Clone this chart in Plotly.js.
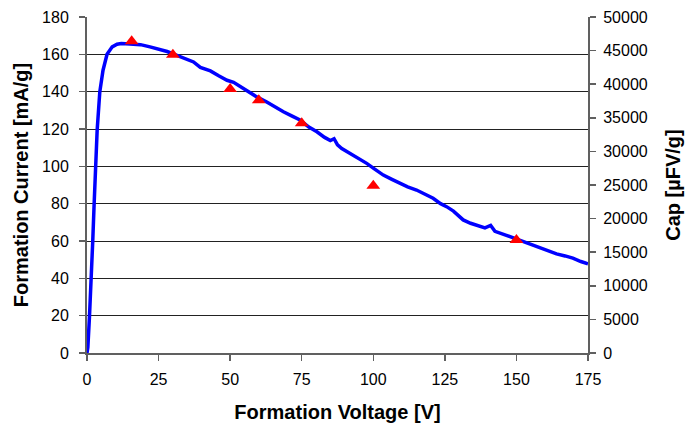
<!DOCTYPE html>
<html>
<head>
<meta charset="utf-8">
<script src="https://cdn.plot.ly/plotly-3.0.1.min.js"></script>
<style>html,body{margin:0;padding:0;background:#fff;}#chart{width:685px;height:427px;}</style>
</head>
<body>
<div id="chart"></div>
<script>
// Formation current curve (left axis)
const voltage = [0,0.3,0.87,1.57,2.0,2.5,2.96,3.55,4.47,5.6,7.0,8.8,10.5,12,15,18.7,22,25.6,28,31.4,34,37.2,39.6,43.1,46,48.9,51.2,54.7,57,59.3,62.8,65.5,68.6,71.5,74.4,77.5,80.3,83,85,86.3,87.5,89,91.9,94.8,97.7,100.5,103.5,106.5,109.3,112,115.1,118,120.9,123.5,125.6,128,131.4,134,137.2,139,141,142.5,146.5,150,153.5,157,160.5,164,167,169.7,172.5,175];
const current = [0,3,19.6,39.2,59.7,80.2,99.8,119.4,139.9,151.5,160,164,165.4,165.8,165.6,165.2,164,162.6,161.5,159.5,157.8,155.9,153,151.1,148.5,146.1,145,141.7,139.9,137.2,134.5,132,129.2,127,124.8,121,118.5,115.5,113.8,114.8,111.5,109.5,107,104,101.6,98.5,95.3,93,90.9,89,87.3,85,82.9,80,78.4,76,71.3,69.5,67.7,67,68.3,65.2,63,61,59,57,55,53.1,52,50.8,49,47.8];
// Capacitance points (right axis)
const capVoltage = [15.6,30,50,60,75,100,150];
const capValue = [46400,44400,39300,37600,34200,24900,16800];
// Tick labels
const xTicks = [0,25,50,75,100,125,150,175];
const yTicks = [0,20,40,60,80,100,120,140,160,180];
const y2Ticks = [0,5000,10000,15000,20000,25000,30000,35000,40000,45000,50000];

const font = 'Liberation Sans, Arial, sans-serif';
const traces = [
  {x: voltage, y: current, type: 'scatter', mode: 'lines', line: {color: '#0000FF', width: 3.5}, yaxis: 'y', hoverinfo: 'skip'},
  {x: capVoltage, y: capValue, type: 'scatter', mode: 'markers', marker: {symbol: 'triangle-up', color: '#FF0000', size: 12}, yaxis: 'y2'}
];
const axisCommon = {showline: true, linecolor: '#606060', linewidth: 2, ticks: 'outside', ticklen: 6, tickcolor: '#606060', tickwidth: 1.5, zeroline: false, tickfont: {family: font, size: 16, color: '#000'}};
const layout = {
  width: 685, height: 427,
  margin: {l: 87, r: 97, t: 17, b: 74},
  paper_bgcolor: '#fff', plot_bgcolor: '#fff',
  showlegend: false,
  xaxis: Object.assign({}, axisCommon, {range: [0,175], tickvals: xTicks, ticktext: xTicks.map(String), showgrid: false, ticklabelstandoff: 5,
    title: {text: 'Formation Voltage [V]', font: {family: font, size: 20, color: '#000', weight: 'bold'}, standoff: 18}}),
  yaxis: Object.assign({}, axisCommon, {range: [0,180], tickvals: yTicks, ticktext: yTicks.map(String), showgrid: true, gridcolor: '#222', gridwidth: 1, ticklabelstandoff: 7,
    title: {text: 'Formation Current [mA/g]', font: {family: font, size: 20, color: '#000', weight: 'bold'}, standoff: 8}}),
  yaxis2: Object.assign({}, axisCommon, {range: [0,50000], tickvals: y2Ticks, ticktext: y2Ticks.map(String), overlaying: 'y', side: 'right', showgrid: false, ticklabelstandoff: 4,
    title: {text: 'Cap [µFV/g]', font: {family: font, size: 20, color: '#000', weight: 'bold'}, standoff: 19}})
};
Plotly.newPlot('chart', traces, layout, {staticPlot: true, displayModeBar: false});
</script>
</body>
</html>
